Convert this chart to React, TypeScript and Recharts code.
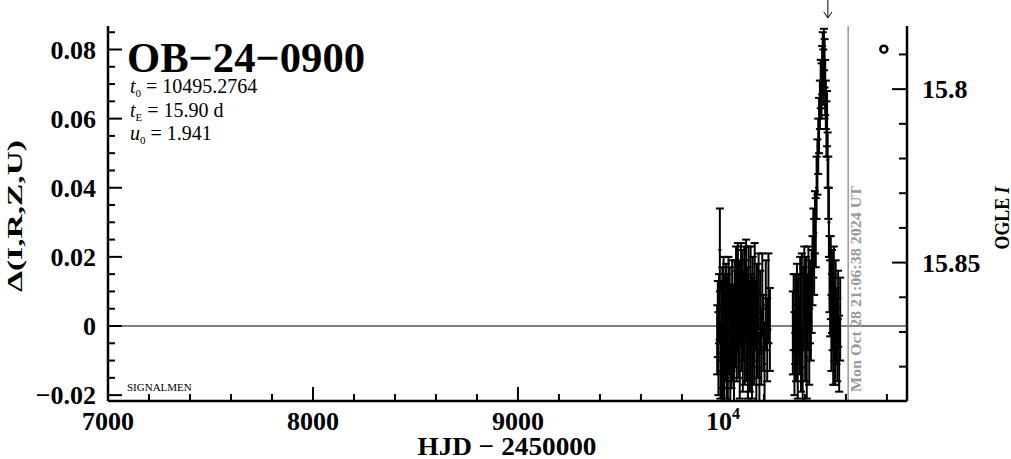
import React from 'react';
import { ComposedChart, Scatter, ErrorBar, XAxis, YAxis, ReferenceLine, ReferenceDot } from 'recharts';

const FONT = '"Liberation Serif", "Times New Roman", serif';

// first season: HJD - 2450000, delta flux, error
const season1Hjd = [
  9972, 9975, 9978, 9981, 9985, 9988, 9991, 9994, 9997, 10000, 10003, 10006, 10009, 10012, 10015,
  10018, 10021, 10024, 10027, 10030, 10033, 10036, 10039, 10042, 10045, 10048, 10051, 10054, 10057,
  10060, 10064, 10067, 10070, 10073, 10076, 10079, 10082, 10085, 10088, 10091, 10094, 10097, 10100,
  10104, 10107, 10110, 10113, 10116, 10119, 10122, 10125, 10129, 10132, 10135, 10138, 10142, 10145,
  10148, 10152, 10155, 10159, 10163, 10166, 10170, 10174, 10178, 10182, 10187, 10192, 10197, 10203,
  10209, 10216, 10222, 10229,
];
const season1Delta = [
  -0.004, 0.002, -0.008, 0.005, 0.022, -0.01, 0.0, -0.014, 0.006, -0.006, 0.01, -0.012, 0.003, -0.003, 0.008,
  -0.009, 0.004, -0.015, 0.011, -0.002, 0.006, -0.011, 0.002, -0.007, 0.009, -0.004, 0.001, -0.013, 0.007,
  -0.001, 0.012, -0.006, 0.004, 0.013, -0.003, 0.009, -0.01, 0.006, 0.014, -0.002, 0.01, -0.008, 0.003,
  0.012, -0.005, 0.008, 0.015, -0.004, 0.006, -0.011, 0.011, 0.002, -0.007, 0.013, 0.004, -0.009, 0.009,
  0.001, -0.006, 0.012, 0.003, -0.01, 0.007, -0.003, 0.01, -0.012, 0.004, -0.006, 0.009, -0.002, -0.011,
  0.006, -0.004, 0.008, -0.001,
];
const season1Err = [
  0.01, 0.011, 0.012, 0.01, 0.012, 0.011, 0.013, 0.012, 0.011, 0.012, 0.01, 0.011, 0.012, 0.013, 0.01,
  0.012, 0.011, 0.01, 0.009, 0.012, 0.011, 0.012, 0.01, 0.011, 0.01, 0.012, 0.011, 0.01, 0.012,
  0.011, 0.011, 0.01, 0.012, 0.011, 0.012, 0.01, 0.011, 0.012, 0.01, 0.011, 0.012, 0.011, 0.013,
  0.011, 0.012, 0.011, 0.01, 0.012, 0.011, 0.01, 0.012, 0.011, 0.012, 0.01, 0.011, 0.012, 0.011,
  0.013, 0.011, 0.012, 0.01, 0.012, 0.011, 0.012, 0.011, 0.01, 0.012, 0.011, 0.012, 0.011, 0.012,
  0.013, 0.012, 0.013, 0.012,
];

// second season with the event
const season2Hjd = [
  10341, 10345, 10349, 10353, 10357, 10361, 10365, 10369, 10373, 10377, 10381, 10385, 10389, 10393,
  10397, 10401, 10405, 10409, 10413, 10417, 10421, 10425, 10429, 10433, 10437, 10441, 10445, 10449,
  10453, 10457, 10461, 10465, 10469, 10473, 10477, 10481, 10484, 10487, 10490, 10493, 10496, 10499,
  10502, 10505, 10508, 10511, 10514, 10517, 10520, 10523, 10526, 10529, 10532, 10535, 10538, 10541,
  10544, 10547, 10550, 10554, 10558, 10562, 10567, 10572,
];
const season2Delta = [
  -0.002, 0.004, -0.008, 0.002, -0.005, 0.006, -0.01, 0.003, -0.003, 0.008, -0.007, 0.01, -0.012, 0.005,
  0.012, -0.004, 0.009, -0.009, 0.004, 0.011, -0.006, 0.007, 0.001, 0.01, 0.016, 0.024, 0.02, 0.03,
  0.027, 0.04, 0.046, 0.052, 0.058, 0.064, 0.07, 0.068, 0.074, 0.078, 0.072, 0.08, 0.076, 0.069,
  0.064, 0.057, 0.06, 0.048, 0.04, 0.03, 0.015, 0.008, 0.014, -0.002, 0.01, 0.004, -0.005, 0.012,
  0.002, -0.006, 0.007, 0.0, -0.004, 0.005, -0.008, 0.002,
];
const season2Err = [
  0.012, 0.011, 0.012, 0.013, 0.011, 0.012, 0.011, 0.012, 0.011, 0.012, 0.012, 0.011, 0.011, 0.012,
  0.011, 0.012, 0.011, 0.012, 0.011, 0.012, 0.011, 0.012, 0.011, 0.012, 0.01, 0.01, 0.011, 0.009,
  0.01, 0.009, 0.008, 0.008, 0.008, 0.007, 0.007, 0.008, 0.007, 0.007, 0.008, 0.006, 0.007, 0.008,
  0.007, 0.008, 0.008, 0.008, 0.009, 0.01, 0.011, 0.011, 0.012, 0.011, 0.012, 0.011, 0.012, 0.011,
  0.012, 0.011, 0.012, 0.011, 0.012, 0.011, 0.011, 0.012,
];

const t0 = 10495.2764;
const arrowHjd = 10512;
const nowHjd = 10611;
const markerHjd = 10785;
const markerDelta = 0.0801;

const xTicks = [
  7000, 7200, 7400, 7600, 7800, 8000, 8200, 8400, 8600, 8800, 9000, 9200, 9400, 9600, 9800,
  10000, 10200, 10400, 10600, 10800,
];
const xLabels: Record<string, string> = { '7000': '7000', '8000': '8000', '9000': '9000', '10000': '10' };

const leftTicks = [
  -0.02, -0.015, -0.01, -0.005, 0, 0.005, 0.01, 0.015, 0.02, 0.025, 0.03, 0.035, 0.04, 0.045, 0.05,
  0.055, 0.06, 0.065, 0.07, 0.075, 0.08, 0.085,
];
const leftLabels: Record<string, string> = {
  '-0.02': '\u22120.02', '0': '0', '0.02': '0.02', '0.04': '0.04', '0.06': '0.06', '0.08': '0.08',
};

const rightTicks = [15.79, 15.8, 15.81, 15.82, 15.83, 15.84, 15.85, 15.86, 15.87, 15.88];
const rightLabels: Record<string, string> = { '15.8': '15.8', '15.85': '15.85' };

const season1 = season1Hjd.map((t, i) => ({ t, d: season1Delta[i], e: season1Err[i] }));
const season2 = season2Hjd.map((t, i) => ({ t, d: season2Delta[i], e: season2Err[i] }));

const BottomTick = ({ x, y, payload }: any) => {
  const label = xLabels[String(payload.value)];
  const len = label !== undefined ? 14 : 7;
  return (
    <g>
      <line x1={x} x2={x} y1={y} y2={y - len} stroke="#000" strokeWidth={2} />
      {label !== undefined && (
        <text x={x} y={y + 29} textAnchor="middle" fontFamily={FONT} fontWeight="bold" fontSize={26} fill="#000">
          {label}
          {payload.value === 10000 && (
            <tspan fontSize={16} dy={-11}>4</tspan>
          )}
        </text>
      )}
    </g>
  );
};

const TopTick = ({ x, y, payload }: any) => {
  const len = xLabels[String(payload.value)] !== undefined ? 14 : 7;
  return <line x1={x} x2={x} y1={y} y2={y + len} stroke="#000" strokeWidth={2} />;
};

const LeftTick = ({ x, y, payload }: any) => {
  const label = leftLabels[String(payload.value)];
  const len = label !== undefined ? 14 : 7;
  return (
    <g>
      <line x1={x} x2={x + len} y1={y} y2={y} stroke="#000" strokeWidth={2} />
      {label !== undefined && (
        <text x={x - 12} y={y + 9} textAnchor="end" fontFamily={FONT} fontWeight="bold" fontSize={26} fill="#000">
          {label}
        </text>
      )}
    </g>
  );
};

const RightTick = ({ x, y, payload }: any) => {
  const label = rightLabels[String(payload.value)];
  const len = label !== undefined ? 15 : 8;
  return (
    <g>
      <line x1={x} x2={x - len} y1={y} y2={y} stroke="#000" strokeWidth={2} />
      {label !== undefined && (
        <text x={x + 15} y={y + 9} textAnchor="start" fontFamily={FONT} fontWeight="bold" fontSize={26} fill="#000">
          {label}
        </text>
      )}
    </g>
  );
};

const Dash = (p: any) => <rect x={p.cx - 1.5} y={p.cy - 1} width={3} height={2} fill="#000" />;

const NowLabel = ({ viewBox }: any) => {
  const vx = viewBox.x;
  const vb = viewBox.y + viewBox.height;
  return (
    <text
      x={vx + 13}
      y={vb - 9}
      transform={`rotate(-90 ${vx + 13} ${vb - 9})`}
      fontFamily={FONT}
      fontWeight="bold"
      fontSize={15}
      fill="#999"
      textLength={206}
      lengthAdjust="spacingAndGlyphs"
    >
      Mon Oct 28 21:06:38 2024 UT
    </text>
  );
};

const Arrow = ({ viewBox }: any) => {
  const vx = viewBox.x;
  const top = viewBox.y;
  return (
    <g stroke="#000" strokeWidth={1} fill="none">
      <line x1={vx} x2={vx} y1={0} y2={top - 8} />
      <polyline points={`${vx - 4},${top - 14} ${vx},${top - 8} ${vx + 4},${top - 14}`} />
    </g>
  );
};

const LeftTitle = () => (
  <text
    x={22}
    y={216}
    transform="rotate(-90 22 216)"
    textAnchor="middle"
    fontFamily={FONT}
    fontWeight="bold"
    fontSize={21}
    fill="#000"
    textLength={152}
    lengthAdjust="spacingAndGlyphs"
  >
    Δ(I,R,Z,U)
  </text>
);

const RightTitle = () => (
  <text
    x={1009}
    y={218}
    transform="rotate(-90 1009 218)"
    textAnchor="middle"
    fontFamily={FONT}
    fontWeight="bold"
    fontSize={22}
    fill="#000"
    textLength={63}
    lengthAdjust="spacingAndGlyphs"
  >
    OGLE <tspan fontStyle="italic">I</tspan>
  </text>
);

const BottomTitle = () => (
  <text
    x={507}
    y={455}
    textAnchor="middle"
    fontFamily={FONT}
    fontWeight="bold"
    fontSize={26}
    fill="#000"
    textLength={179}
    lengthAdjust="spacingAndGlyphs"
  >
    HJD {'\u2212'} 2450000
  </text>
);

export default function App() {
  return (
    <div style={{ position: 'absolute', left: 0, top: 0, width: 1011, height: 459, background: '#fff' }}>
      <ComposedChart width={1011} height={459} margin={{ top: 26, right: 0, bottom: 0, left: 0 }}>
        <defs>
          <clipPath id="plotFrame">
            <rect x={108} y={26} width={799} height={375} />
          </clipPath>
        </defs>
        <XAxis
          xAxisId="bottom"
          type="number"
          dataKey="t"
          domain={[7000, 10898]}
          allowDataOverflow
          ticks={xTicks}
          interval={0}
          height={58}
          tickSize={0}
          tickMargin={0}
          tickLine={false}
          tick={<BottomTick />}
          axisLine={{ stroke: '#000', strokeWidth: 2.5 }}
          label={<BottomTitle />}
        />
        <XAxis
          xAxisId="top"
          orientation="top"
          type="number"
          domain={[7000, 10898]}
          allowDataOverflow
          ticks={xTicks}
          interval={0}
          height={0}
          tickSize={0}
          tickMargin={0}
          tickLine={false}
          tick={<TopTick />}
          axisLine={{ stroke: '#000', strokeWidth: 2.5 }}
        />
        <YAxis
          yAxisId="left"
          type="number"
          dataKey="d"
          domain={[-0.0217, 0.0868]}
          allowDataOverflow
          ticks={leftTicks}
          interval={0}
          width={108}
          tickSize={0}
          tickMargin={0}
          tickLine={false}
          tick={<LeftTick />}
          axisLine={{ stroke: '#000', strokeWidth: 2.5 }}
          label={<LeftTitle />}
        />
        <YAxis
          yAxisId="right"
          orientation="right"
          type="number"
          domain={[15.7818, 15.8899]}
          reversed
          allowDataOverflow
          ticks={rightTicks}
          interval={0}
          width={104}
          tickSize={0}
          tickMargin={0}
          tickLine={false}
          tick={<RightTick />}
          axisLine={{ stroke: '#000', strokeWidth: 2.5 }}
          label={<RightTitle />}
        />
        <ReferenceLine xAxisId="bottom" yAxisId="left" y={0} stroke="#000" strokeWidth={1.2} />
        <ReferenceLine
          xAxisId="bottom"
          yAxisId="left"
          x={nowHjd}
          stroke="#999"
          strokeWidth={1.5}
          label={<NowLabel />}
        />
        <ReferenceLine xAxisId="bottom" yAxisId="left" x={arrowHjd} stroke="none" label={<Arrow />} />
        <Scatter xAxisId="bottom" yAxisId="left" data={season1} dataKey="d" shape={<Dash />} isAnimationActive={false}>
          <ErrorBar
            dataKey="e"
            direction="y"
            width={4}
            stroke="#000"
            strokeWidth={2}
            clipPath="url(#plotFrame)"
            isAnimationActive={false}
          />
        </Scatter>
        <Scatter xAxisId="bottom" yAxisId="left" data={season2} dataKey="d" shape={<Dash />} isAnimationActive={false}>
          <ErrorBar
            dataKey="e"
            direction="y"
            width={4}
            stroke="#000"
            strokeWidth={2}
            clipPath="url(#plotFrame)"
            isAnimationActive={false}
          />
        </Scatter>
        <ReferenceDot
          xAxisId="bottom"
          yAxisId="left"
          x={markerHjd}
          y={markerDelta}
          r={3.5}
          fill="#fff"
          stroke="#000"
          strokeWidth={2.5}
        />
      </ComposedChart>
      <svg
        width={1011}
        height={459}
        style={{ position: 'absolute', left: 0, top: 0, pointerEvents: 'none' }}
        fontFamily={FONT}
      >
        <text x={127} y={72} fontSize={42} fontWeight="bold" textLength={238} lengthAdjust="spacingAndGlyphs">
          OB{'\u2212'}24{'\u2212'}0900
        </text>
        <text x={130} y={93} fontSize={20}>
          <tspan fontStyle="italic">t</tspan>
          <tspan fontSize={11} dy={4}>0</tspan>
          <tspan dy={-4}> = {t0.toFixed(4)}</tspan>
        </text>
        <text x={130} y={117} fontSize={20}>
          <tspan fontStyle="italic">t</tspan>
          <tspan fontSize={11} dy={4}>E</tspan>
          <tspan dy={-4}> = 15.90 d</tspan>
        </text>
        <text x={130} y={140} fontSize={20}>
          <tspan fontStyle="italic">u</tspan>
          <tspan fontSize={11} dy={4}>0</tspan>
          <tspan dy={-4}> = 1.941</tspan>
        </text>
        <text x={127} y={391} fontSize={11}>SIGNALMEN</text>
      </svg>
    </div>
  );
}
